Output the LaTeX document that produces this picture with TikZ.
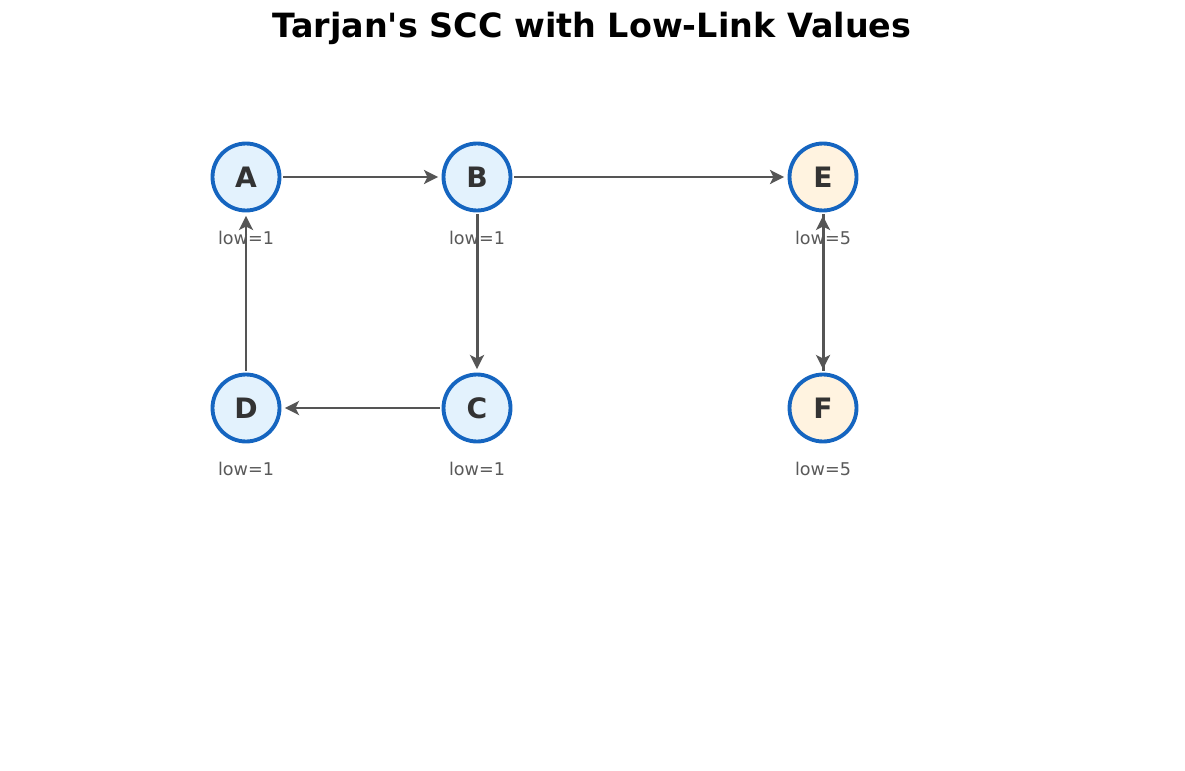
\documentclass[tikz,border=0pt]{standalone}
\usepackage{fontspec}
\setmainfont{DejaVu Sans}
\usetikzlibrary{arrows.meta, positioning}
\definecolor{nodeblue}{HTML}{1565C0}
\definecolor{fillblue}{HTML}{E3F2FD}
\definecolor{fillorange}{HTML}{FFF3E0}
\definecolor{edgegray}{HTML}{555555}
\begin{document}
\begin{tikzpicture}[x=0.02cm,y=-0.02cm,
	>={Stealth[length=8pt,width=8pt,inset=2pt]}]

	\tikzset{node scc/.style={circle, draw=nodeblue, line width=2.2pt,
			minimum size=1.34cm, inner sep=0pt, fill=fillblue,
			text=black!80, font=\bfseries\fontsize{16}{18}\selectfont}}
	\tikzset{node single/.style={node scc, fill=fillorange}}
	\tikzset{low lbl/.style={below=0.25cm, text=black!65, font=\fontsize{10}{12}\selectfont}}
	\tikzset{link/.style={->, draw=edgegray, line width=1.7pt, shorten >=2pt, shorten <=1pt}}

	\useasboundingbox (0,0) rectangle (1185,770);
	\node[font=\bfseries\fontsize{19}{22}\selectfont] (title) at (592,28) {Tarjan\textquotesingle s SCC with Low-Link Values};

	\node[node scc] (A) at (246,177) {A};
	\node[node scc] (B) at (477,177) {B};
	\node[node single] (E) at (823,177) {E};
	\node[node scc] (D) at (246,408) {D};
	\node[node scc] (C) at (477,408) {C};
	\node[node single] (F) at (823,408) {F};

	\foreach \n/\v in {A/1,B/1,C/1,D/1,E/5,F/5}
		\node[low lbl] (\n low) at (\n.south) {low=\v};

	\draw (A) edge[link] (B)
	(B) edge[link] (E)
	(B) edge[link] (C)
	(C) edge[link] (D)
	(D) edge[link] (A)
	(E) edge[link] (F)
	(F) edge[link] (E);
\end{tikzpicture}
\end{document}
